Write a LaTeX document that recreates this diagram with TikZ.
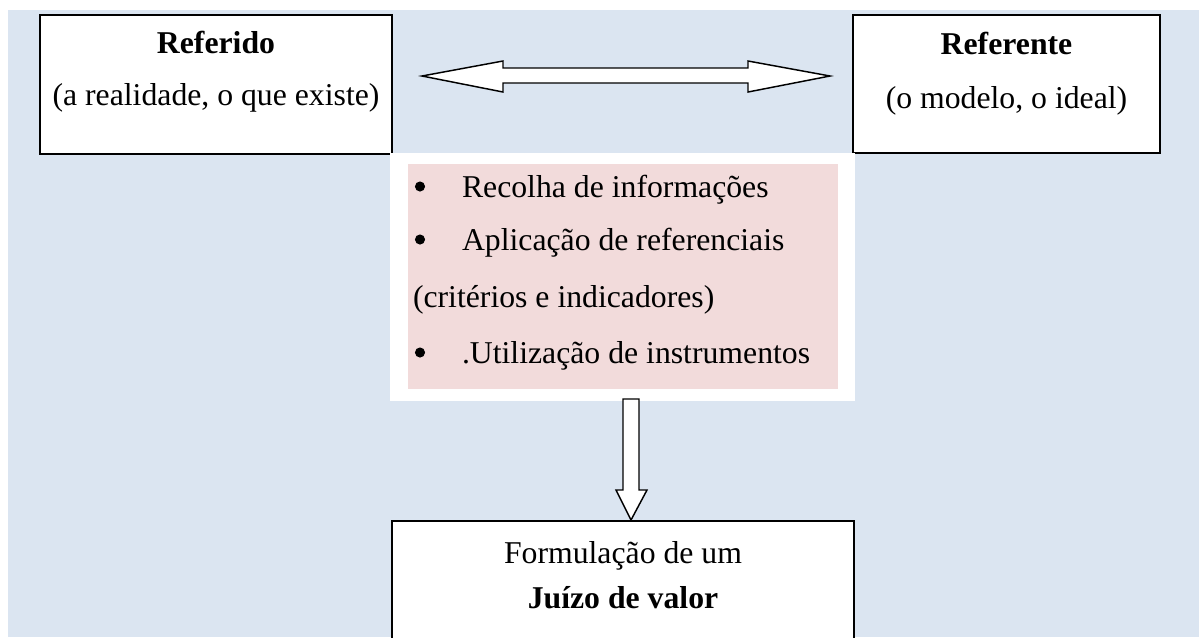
\documentclass[tikz,border=0pt]{standalone}
\usepackage{fontspec}
\setmainfont{Liberation Serif}
\definecolor{bgblue}{RGB}{219,229,241}
\definecolor{pinkfill}{RGB}{242,219,219}
\begin{document}
\begin{tikzpicture}[x=0.75pt,y=-0.75pt,
  every node/.style={font=\fontsize{23.8pt}{28pt}\selectfont, inner sep=0pt, outer sep=0pt},
  box/.style={draw=black, line width=1.5pt, fill=white},
  blockarrow/.style={draw=black, line width=1.1pt, fill=white, line join=miter},
  lbl/.style={anchor=base},
  lblw/.style={anchor=base west},
  bulletdot/.style={circle, fill=black, minimum size=7.6pt},
  boldlbl/.style={anchor=base, font=\fontsize{23.8pt}{28pt}\selectfont\bfseries}]
\clip (0,0) rectangle (1199,637);
\fill[white] (0,0) rectangle (1199,637);
\fill[bgblue] (8,10) rectangle (1199,637);
% boxes
\node[box, minimum width=264pt, minimum height=104.25pt] (referido) at (216,84.5) {};
\node[box, minimum width=230.25pt, minimum height=103.5pt] (referente) at (1006.5,84) {};
\node[fill=white, minimum width=348.75pt, minimum height=186pt] (panel) at (622.5,277) {};
\node[fill=pinkfill, minimum width=322.5pt, minimum height=168.75pt] (info) at (623,276.5) {};
\node[box, minimum width=346.5pt, minimum height=104.25pt] (juizo) at (623,590.5) {};
% texts
\node[boldlbl] (t1) at (216,53) {Referido};
\node[lbl] (t2) at (216,105) {(a realidade, o que existe)};
\node[boldlbl] (t3) at (1006.5,54) {Referente};
\node[lbl] (t4) at (1006.5,108) {(o modelo, o ideal)};
\node[bulletdot] (b1) at (420,186.5) {};
\node[lblw] (l1) at (462,197) {Recolha de informações};
\node[bulletdot] (b2) at (420,239.5) {};
\node[lblw] (l2) at (462,250) {Aplicação de referenciais};
\node[lblw] (l3) at (413,307) {(critérios e indicadores)};
\node[bulletdot] (b4) at (420,352.5) {};
\node[lblw] (l4) at (462,363) {.Utilização de instrumentos};
\node[lbl] (j1) at (623,563) {Formulação de um};
\node[boldlbl] (j2) at (623,608) {Juízo de valor};
% double block arrow between referido and referente
\draw[blockarrow] (422,76) -- (503,61) -- (503,68) -- (748,68) -- (748,61) -- (830,76)
  -- (748,92) -- (748,83) -- (503,83) -- (503,92) -- cycle;
% down block arrow from panel to juizo
\draw[blockarrow] (623,399) -- (639,399) -- (639,490) -- (647,490) -- (631,520)
  -- (616,490) -- (623,490) -- cycle;
\end{tikzpicture}
\end{document}
